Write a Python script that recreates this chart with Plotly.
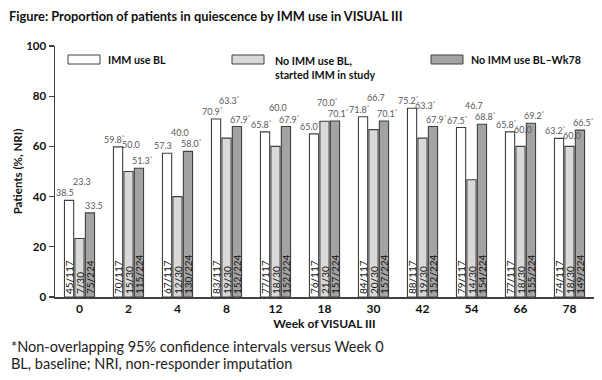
import plotly.graph_objects as go

# ---------------- data ----------------
weeks = ["0", "2", "4", "8", "12", "18", "30", "42", "54", "66", "78"]

imm_bl = [38.5, 59.8, 57.3, 70.9, 65.8, 65.0, 71.8, 75.2, 67.5, 65.8, 63.2]
no_imm_started = [23.3, 50.0, 40.0, 63.3, 60.0, 70.0, 66.7, 63.3, 46.7, 60.0, 60.0]
no_imm_wk78 = [33.5, 51.3, 58.0, 67.9, 67.9, 70.1, 70.1, 67.9, 68.8, 69.2, 66.5]

imm_bl_n = ["45/117", "70/117", "67/117", "83/117", "77/117", "76/117",
            "84/117", "88/117", "79/117", "77/117", "74/117"]
no_imm_started_n = ["7/30", "15/30", "12/30", "19/30", "18/30", "21/30",
                    "20/30", "19/30", "14/30", "18/30", "18/30"]
no_imm_wk78_n = ["75/224", "115/224", "130/224", "152/224", "152/224", "157/224",
                 "157/224", "152/224", "154/224", "155/224", "149/224"]

imm_bl_sig = [False, True, False, True, True, True, True, True, True, True, True]
no_imm_started_sig = [False, False, False, True, False, True, False, True, False, False, False]
no_imm_wk78_sig = [False, True, True, True, True, True, True, True, True, True, True]

series_names = ["IMM use BL", "No IMM use BL,<br>started IMM in study", "No IMM use BL\u2013Wk78"]

# ---------------- layout geometry (pixels) ----------------
W, H = 602, 380
L, R, T, B = 55, 8, 46, 83
PW, PH = W - L - R, H - T - B

def px_x(px):
    return (px - L) / PW

def px_y(py):
    return (H - B - py) / PH

FONT = "Lato"
fills = ["#ffffff", "#d9d9d9", "#a3a3a3"]
edge = "#404040"

fig = go.Figure()
all_vals = [imm_bl, no_imm_started, no_imm_wk78]
all_n = [imm_bl_n, no_imm_started_n, no_imm_wk78_n]
all_sig = [imm_bl_sig, no_imm_started_sig, no_imm_wk78_sig]

for vals, ns, fill, name in zip(all_vals, all_n, fills, series_names):
    fig.add_trace(go.Bar(
        x=weeks, y=vals, name=name, text=ns,
        textposition="inside", textangle=-90, insidetextanchor="start",
        textfont=dict(family=FONT, size=10, color="#111111"),
        marker=dict(color=fill, line=dict(color=edge, width=1.1)),
        showlegend=False, cliponaxis=False, hoverinfo="skip",
    ))

bargap, bargroupgap = 0.36, 0.12
slot = PW / len(weeks) * (1 - bargap) / 3  # pixel width of one bar slot

# ---------------- value labels ----------------
annotations = []
for i, wk in enumerate(weeks):
    w, l, d = imm_bl[i], no_imm_started[i], no_imm_wk78[i]
    lvl_w = w
    lvl_d = d
    lvl_l = w - 2.0 if w > l else l
    if abs(lvl_d - lvl_l) < 4.5:
        lvl_l = max(lvl_d, lvl_w, l) + 4.5
    levels = [lvl_w, lvl_l, lvl_d]
    shifts = [-slot - 4, 2.5, slot + 4]
    for s in range(3):
        v = all_vals[s][i]
        txt = f"{v:.1f}" + ("<sup>*</sup>" if all_sig[s][i] else "")
        annotations.append(dict(
            x=i, y=levels[s], xref="x", yref="y", text=txt, showarrow=False,
            xanchor="center", yanchor="bottom", xshift=shifts[s], yshift=0,
            font=dict(family=FONT, size=9, color="#595959"),
        ))

# ---------------- manual legend ----------------
legend_items = [(68, 100, 106), (232, 264, 273), (431, 463, 469)]
shapes = []
for (x0, x1, tx), fill, name in zip(legend_items, fills, series_names):
    shapes.append(dict(type="rect", xref="paper", yref="paper",
                       x0=px_x(x0), x1=px_x(x1), y0=px_y(64), y1=px_y(55),
                       fillcolor=fill, line=dict(color=edge, width=1)))
    if "<br>" in name:
        ty, yanch = px_y(52), "top"
    else:
        ty, yanch = px_y(59.5), "middle"
    annotations.append(dict(
        x=px_x(tx), y=ty, xref="paper", yref="paper", text=name,
        showarrow=False, xanchor="left", yanchor=yanch, align="left",
        font=dict(family=FONT, size=10.7, color="#111111", weight="bold"),
    ))

# ---------------- title & footnotes ----------------
annotations.append(dict(
    x=px_x(7), y=px_y(16), xref="paper", yref="paper",
    text="Figure: Proportion of patients in quiescence by IMM use in VISUAL III",
    showarrow=False, xanchor="left", yanchor="middle",
    font=dict(family=FONT, size=12.8, color="#111111", weight="bold"),
))
annotations.append(dict(
    x=px_x(9), y=px_y(346), xref="paper", yref="paper",
    text="*Non-overlapping 95% confidence intervals versus Week 0",
    showarrow=False, xanchor="left", yanchor="middle",
    font=dict(family=FONT, size=14.5, color="#222222"),
))
annotations.append(dict(
    x=px_x(9), y=px_y(363), xref="paper", yref="paper",
    text="BL, baseline; NRI, non-responder imputation",
    showarrow=False, xanchor="left", yanchor="middle",
    font=dict(family=FONT, size=14.5, color="#222222"),
))

fig.update_layout(
    width=W, height=H,
    margin=dict(l=L, r=R, t=T, b=B),
    paper_bgcolor="white", plot_bgcolor="white",
    barmode="group", bargap=bargap, bargroupgap=bargroupgap,
    uniformtext=dict(minsize=10, mode="show"),
    hovermode=False,
    xaxis=dict(type="category", range=[-0.5, len(weeks) - 0.5], automargin=False,
               showline=True, linecolor=edge, linewidth=1.5,
               ticks="", showgrid=False, zeroline=False,
               tickfont=dict(family=FONT, size=12, color="#111111", weight="bold"),
               title=dict(text="Week of VISUAL III", standoff=4,
                          font=dict(family=FONT, size=12, color="#111111", weight="bold"))),
    yaxis=dict(range=[0, 100], tickvals=[0, 20, 40, 60, 80, 100], automargin=False,
               showline=True, linecolor=edge, linewidth=1.5, ticks="outside", ticklen=5,
               tickcolor=edge, tickwidth=1.2, showgrid=False, zeroline=False,
               tickfont=dict(family=FONT, size=11.5, color="#111111", weight="bold"),
               title=dict(text="Patients (%, NRI)", standoff=1,
                          font=dict(family=FONT, size=11.5, color="#111111", weight="bold"))),
    annotations=annotations,
    shapes=shapes,
)

fig.write_html("out.html", config={"displayModeBar": False, "staticPlot": True},
               post_script="document.body.style.margin='0';")
